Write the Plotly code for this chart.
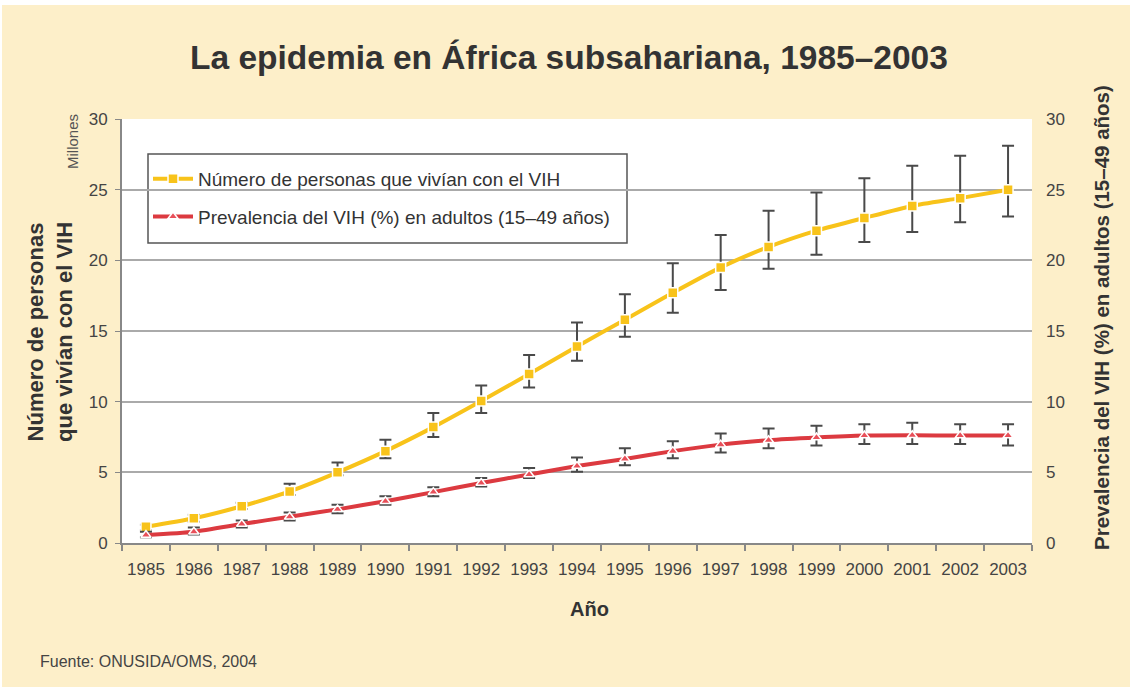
import plotly.graph_objects as go

years = [str(y) for y in range(1985, 2004)]

personas = [1.15, 1.75, 2.6, 3.65, 5.0, 6.5, 8.2, 10.05, 11.95, 13.9, 15.8, 17.7,
            19.5, 20.95, 22.1, 23.0, 23.85, 24.4, 25.0]
personas_hi = [1.3, 2.0, 2.85, 4.2, 5.7, 7.3, 9.2, 11.15, 13.3, 15.6, 17.6, 19.8,
               21.8, 23.5, 24.8, 25.8, 26.7, 27.4, 28.1]
personas_lo = [0.9, 1.5, 2.4, 3.4, 4.8, 6.0, 7.5, 9.2, 11.0, 12.9, 14.6, 16.3,
               17.9, 19.4, 20.4, 21.3, 22.0, 22.7, 23.1]

prevalencia = [0.56, 0.8, 1.34, 1.86, 2.38, 2.96, 3.6, 4.25, 4.85, 5.45, 5.95, 6.5,
               6.96, 7.27, 7.46, 7.6, 7.62, 7.6, 7.6]
prev_hi = [0.8, 1.1, 1.6, 2.15, 2.7, 3.3, 3.95, 4.6, 5.3, 6.05, 6.7, 7.2,
           7.75, 8.1, 8.3, 8.4, 8.5, 8.4, 8.4]
prev_lo = [0.4, 0.6, 1.1, 1.6, 2.1, 2.7, 3.3, 4.0, 4.6, 5.05, 5.5, 6.0,
           6.4, 6.7, 6.9, 7.0, 7.0, 7.0, 6.9]

y_ticks = [0, 5, 10, 15, 20, 25, 30]

FONT = "Liberation Sans, Arial, sans-serif"
YELLOW = "#F8C31A"
RED = "#DC3A40"
ERR = "#4a4a4a"
TXT = "#333333"

fig = go.Figure()

fig.add_trace(go.Scatter(
    x=years, y=personas, mode="lines+markers", name="Número de personas que vivían con el VIH",
    legendgroup="a",
    line=dict(color=YELLOW, width=4, shape="spline", smoothing=0.6),
    marker=dict(symbol="square", size=10, color=YELLOW, line=dict(color="white", width=1.5)),
    error_y=dict(type="data", symmetric=False,
                 array=[h - v for h, v in zip(personas_hi, personas)],
                 arrayminus=[v - l for v, l in zip(personas, personas_lo)],
                 color=ERR, thickness=2, width=6),
))

fig.add_trace(go.Scatter(
    x=years, y=prevalencia, mode="lines+markers", name="Prevalencia del VIH (%) en adultos (15–49 años)",
    legendgroup="b", yaxis="y2",
    line=dict(color=RED, width=4, shape="spline", smoothing=0.6),
    marker=dict(symbol="triangle-up", size=9, color="#E8505A", line=dict(color="white", width=1.5)),
    error_y=dict(type="data", symmetric=False,
                 array=[h - v for h, v in zip(prev_hi, prevalencia)],
                 arrayminus=[v - l for v, l in zip(prevalencia, prev_lo)],
                 color=ERR, thickness=2, width=6),
))

L, R, T, B = 122, 1032, 119, 543
W, H = R - L, B - T
def px(xp): return (xp - L) / W
def py(yp): return (B - yp) / H

fig.update_layout(
    width=1130, height=691,
    margin=dict(l=L, r=1130 - R, t=T, b=691 - B),
    paper_bgcolor="white",
    plot_bgcolor="white",
    font=dict(family=FONT, color=TXT, size=17),
    showlegend=True,
    legend=dict(x=px(148), y=py(160), xanchor="left", yanchor="top",
                bgcolor="rgba(0,0,0,0)", borderwidth=0,
                font=dict(size=19, color=TXT, family=FONT),
                tracegroupgap=10, itemwidth=40),
    xaxis=dict(type="category", tickson="boundaries", ticks="outside", ticklen=6,
               tickcolor="#888888", tickwidth=1.5,
               showline=True, linecolor="#888888", linewidth=2,
               showgrid=False, tickfont=dict(size=17, color="#444444"),
               range=[-0.5, 18.5], ticklabelstandoff=10),
    yaxis=dict(range=[0, 30], tickvals=y_ticks, ticks="outside", ticklen=5,
               tickcolor="#888888", showline=True, linecolor="#888888", linewidth=2,
               showgrid=True, gridcolor="#AAAAAA", gridwidth=1.5, zeroline=False,
               tickfont=dict(size=17, color="#444444"), ticklabelstandoff=4),
    yaxis2=dict(range=[0, 30], tickvals=y_ticks, overlaying="y", side="right",
                showgrid=False, showline=False, zeroline=False, ticks="",
                tickfont=dict(size=17, color="#444444"), ticklabelstandoff=13),
    shapes=[dict(type="rect", xref="paper", yref="paper", layer="below",
                 x0=px(2), x1=px(1130), y0=py(687), y1=py(5),
                 fillcolor="#FDEFC9", line=dict(width=0)),
            dict(type="rect", xref="paper", yref="paper", layer="below",
                 x0=0, x1=1, y0=0, y1=1, fillcolor="white", line=dict(width=0)),
            dict(type="rect", xref="paper", yref="paper", layer="between",
                 x0=px(148), x1=px(627), y0=py(243), y1=py(154),
                 fillcolor="white", line=dict(color="#555555", width=1.5))],
)

def ann(text, x, y, size, angle=0, xanchor="center", color=TXT):
    fig.add_annotation(text=text, xref="paper", yref="paper", x=px(x), y=py(y),
                       xanchor=xanchor, yanchor="middle", textangle=angle,
                       showarrow=False, font=dict(size=size, color=color, family=FONT))

ann("<b>La epidemia en África subsahariana, 1985–2003</b>", 569, 57, 33.5)
ann("<b>Número de personas<br>que vivían con el VIH</b>", 50, 332, 22, angle=-90)
ann("<b>Prevalencia del VIH (%) en adultos (15–49 años)</b>", 1101, 318, 20.5, angle=-90)
ann("Millones", 73, 142, 15, angle=-90, color="#555555")
ann("<b>Año</b>", 589, 609, 20)
ann("Fuente: ONUSIDA/OMS, 2004", 38, 661, 16, xanchor="left", color="#444444")

fig.write_html("out.html", config={"displayModeBar": False},
               post_script="document.body.style.margin='0';")
